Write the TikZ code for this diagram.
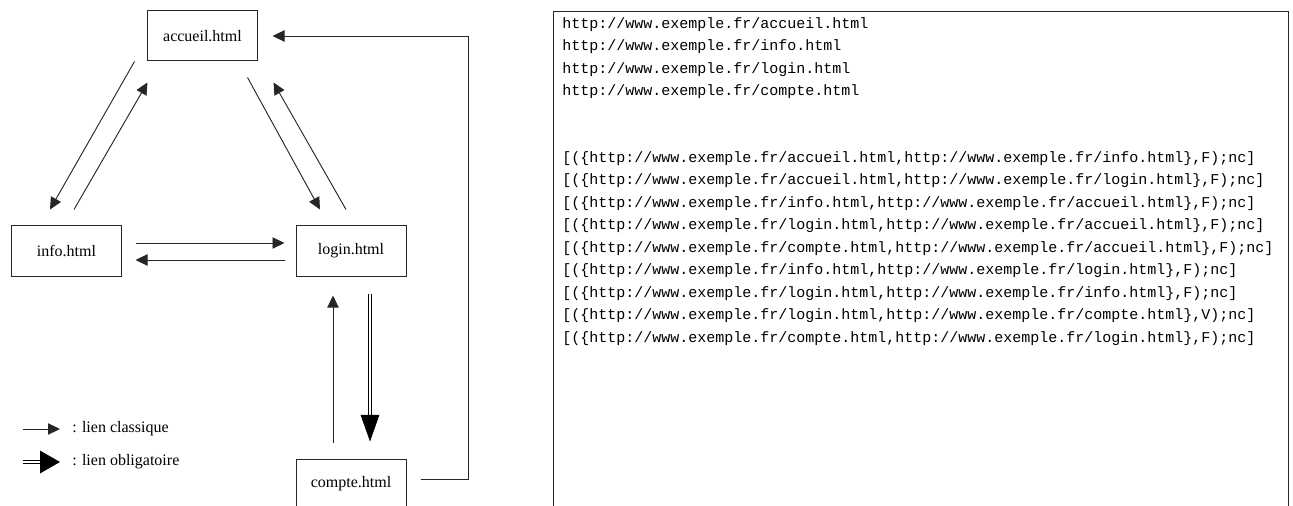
\documentclass[tikz,border=0pt]{standalone}
\usepackage{fontspec}
\setmainfont{Liberation Serif}
\setmonofont{Liberation Mono}
\usepackage{tikz}
\usetikzlibrary{arrows.meta,calc,positioning}

\begin{document}
\begin{tikzpicture}[
    x=0.75pt,
    y=-0.75pt,
    page/.style={
        draw=black!85,
        line width=0.75pt,
        minimum width=82.5pt,
        minimum height=37.5pt,
        inner sep=0pt,
        font=\fontsize{12}{14}\selectfont
    },
    link/.style={
        draw=black!85,
        line width=0.7pt,
        -{Triangle[length=9pt,width=8.5pt]}
    },
    mandatory/.style={
        draw=black,
        double,
        double distance=1.8pt,
        line width=0.6pt,
        -{Triangle[length=20pt,width=14pt]}
    },
    urlline/.style={
        anchor=west,
        inner sep=0pt,
        font=\ttfamily\fontsize{11.25}{13}\selectfont
    },
    legendtext/.style={
        anchor=west,
        inner sep=0pt,
        font=\fontsize{12}{14}\selectfont
    }
]

\useasboundingbox (0,0) rectangle (1293,506);
\clip (0,0) rectangle (1293,506);

% Pages
\node[page] (accueil) at (202.5,36) {accueil.html};
\node[page] (info) at (66.5,251) {info.html};
\node[page] (login) at (351,251) {login.html};
\node[page] (compte) at (351,484) {compte.html};

% Links
\draw[link] ($(accueil.south west)+(-12.5,0)$) -- ($(info.north)+(-16.5,-16)$);
\draw[link] ($(info.north)+(7.5,-16)$) -- ($(accueil.south west)+(0.5,21)$);

\draw[link] ($(accueil.south east)+(-10.5,16)$) -- ($(login.north)+(-31,-16)$);
\draw[link] ($(login.north)+(-5,-16)$) -- ($(accueil.south east)+(15.5,21)$);

\draw[link] ($(info.east)+(13.5,-8)$) -- ($(login.west)+(-11,-8)$);
\draw[link] ($(login.west)+(-11,9)$) -- ($(info.east)+(13.5,9)$);

\draw[link] ($(compte.north)+(-18,-16)$) -- ($(login.south)+(-18,19)$);
\draw[mandatory] ($(login.south)+(19,17)$) -- ($(compte.north)+(19,-17)$);

\draw[link]
($(compte.east)+(14,-5)$)
-- ++(48,0)
|- ($(accueil.east)+(14.5,0)$);

% Legend
\coordinate (classic) at (23,429);
\node[legendtext] (classiclabel) at (72,429) {: lien classique};
\draw[link, shorten >=9pt] (classic) -- (classiclabel.west);

\coordinate (obligatory) at (23,462);
\node[legendtext] (obligatorylabel) at (72,462) {: lien obligatoire};
\draw[mandatory, -{Triangle[length=15pt,width=17pt]}, shorten >=9pt]
(obligatory) -- (obligatorylabel.west);

% URL list
\node[draw=black!85, line width=0.75pt, anchor=north west,
      minimum width=551.6pt, minimum height=390pt, inner sep=0pt]
(urlbox) at (552.5,11.5) {};

\node[urlline] (url1) at (562,24.5) {http://www.exemple.fr/accueil.html};
\node[urlline] (url2) at (562,46.9) {http://www.exemple.fr/info.html};
\node[urlline] (url3) at (562,69.4) {http://www.exemple.fr/login.html};
\node[urlline] (url4) at (562,91.8) {http://www.exemple.fr/compte.html};

\node[urlline] (arc1) at (562,158.7)
{[(\{http://www.exemple.fr/accueil.html,http://www.exemple.fr/info.html\},F);nc]};
\node[urlline] (arc2) at (562,181.1)
{[(\{http://www.exemple.fr/accueil.html,http://www.exemple.fr/login.html\},F);nc]};
\node[urlline] (arc3) at (562,203.6)
{[(\{http://www.exemple.fr/info.html,http://www.exemple.fr/accueil.html\},F);nc]};
\node[urlline] (arc4) at (562,226.0)
{[(\{http://www.exemple.fr/login.html,http://www.exemple.fr/accueil.html\},F);nc]};
\node[urlline] (arc5) at (562,248.5)
{[(\{http://www.exemple.fr/compte.html,http://www.exemple.fr/accueil.html\},F);nc]};
\node[urlline] (arc6) at (562,270.9)
{[(\{http://www.exemple.fr/info.html,http://www.exemple.fr/login.html\},F);nc]};
\node[urlline] (arc7) at (562,293.3)
{[(\{http://www.exemple.fr/login.html,http://www.exemple.fr/info.html\},F);nc]};
\node[urlline] (arc8) at (562,315.8)
{[(\{http://www.exemple.fr/login.html,http://www.exemple.fr/compte.html\},V);nc]};
\node[urlline] (arc9) at (562,338.2)
{[(\{http://www.exemple.fr/compte.html,http://www.exemple.fr/login.html\},F);nc]};

\end{tikzpicture}
\end{document}
